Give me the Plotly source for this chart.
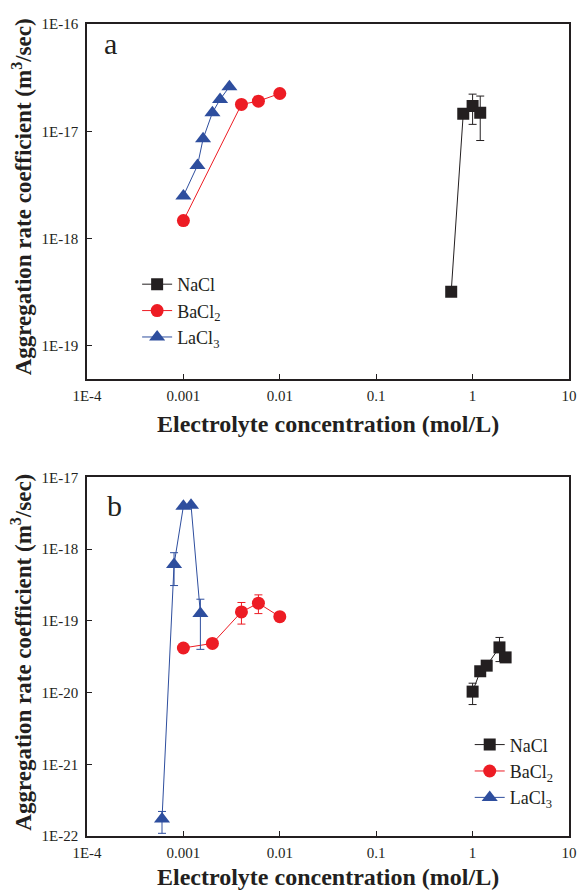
import plotly.graph_objects as go

nan = float("nan")

# ---- Panel a data ----
a_nacl_x = [0.6, 0.8, 1.0, 1.2]
a_nacl_y = [3.2e-19, 1.46e-17, 1.72e-17, 1.49e-17]
a_nacl_ep = [nan, nan, 0.50e-17, 0.64e-17]
a_nacl_em = [nan, nan, 0.56e-17, 0.67e-17]

a_ba_x = [0.001, 0.004, 0.006, 0.01]
a_ba_y = [1.47e-18, 1.78e-17, 1.91e-17, 2.25e-17]

a_la_x = [0.001, 0.0014, 0.0016, 0.002, 0.0024, 0.003]
a_la_y = [2.5e-18, 4.8e-18, 8.5e-18, 1.49e-17, 1.98e-17, 2.6e-17]

# ---- Panel b data ----
b_nacl_x = [1.0, 1.2, 1.4, 1.9, 2.2]
b_nacl_y = [1.03e-20, 1.98e-20, 2.37e-20, 4.26e-20, 3.09e-20]
b_nacl_ep = [0.32e-20, nan, nan, 1.6e-20, nan]
b_nacl_em = [0.35e-20, nan, nan, 1.56e-20, nan]

b_ba_x = [0.001, 0.002, 0.004, 0.006, 0.01]
b_ba_y = [4.18e-20, 4.84e-20, 1.33e-19, 1.76e-19, 1.14e-19]
b_ba_ep = [nan, nan, 0.47e-19, 0.54e-19, nan]
b_ba_em = [nan, nan, 0.43e-19, 0.50e-19, nan]

b_la_x = [0.0006, 0.0008, 0.001, 0.0012, 0.0015]
b_la_y = [1.72e-22, 6.1e-19, 3.96e-18, 4.07e-18, 1.26e-19]
b_la_ep = [0.48e-22, 2.8e-19, nan, nan, 0.74e-19]
b_la_em = [0.63e-22, 3.0e-19, nan, nan, 0.86e-19]

x_tickvals = [1e-4, 1e-3, 1e-2, 1e-1, 1, 10]
x_ticktext = ["1E-4", "0.001", "0.01", "0.1", "1", "10"]
ya_tickvals = [1e-19, 1e-18, 1e-17, 1e-16]
ya_ticktext = ["1E-19", "1E-18", "1E-17", "1E-16"]
yb_tickvals = [1e-22, 1e-21, 1e-20, 1e-19, 1e-18, 1e-17]
yb_ticktext = ["1E-22", "1E-21", "1E-20", "1E-19", "1E-18", "1E-17"]

BLACK = "#231f20"
RED = "#ed1c24"
BLUE = "#2e4e9e"
FONT = "Liberation Serif"

names = ["NaCl", "BaCl<sub>2</sub>", "LaCl<sub>3</sub>"]
colors = [BLACK, RED, BLUE]
symbols = ["square", "circle", "triangle-up"]
sizes = [12, 13, 14]

fig = go.Figure()


def add(x, y, i, xa, ya, legend, ep=None, em=None):
    err = None
    if ep is not None:
        err = dict(type="data", symmetric=False, array=ep, arrayminus=em,
                   color=colors[i], thickness=1, width=4)
    fig.add_trace(go.Scatter(
        x=x, y=y, mode="lines+markers", name=names[i],
        line=dict(color=colors[i], width=1),
        marker=dict(symbol=symbols[i], size=sizes[i], color=colors[i]),
        error_y=err, xaxis=xa, yaxis=ya, legend=legend))


add(a_nacl_x, a_nacl_y, 0, "x", "y", "legend", a_nacl_ep, a_nacl_em)
add(a_ba_x, a_ba_y, 1, "x", "y", "legend")
add(a_la_x, a_la_y, 2, "x", "y", "legend")
add(b_nacl_x, b_nacl_y, 0, "x2", "y2", "legend2", b_nacl_ep, b_nacl_em)
add(b_ba_x, b_ba_y, 1, "x2", "y2", "legend2", b_ba_ep, b_ba_em)
add(b_la_x, b_la_y, 2, "x2", "y2", "legend2", b_la_ep, b_la_em)

axis_common = dict(type="log", showgrid=False, zeroline=False, showline=True,
                   linecolor=BLACK, linewidth=1.5, mirror=True, ticks="inside",
                   ticklen=5, tickwidth=1.2, tickcolor=BLACK,
                   tickfont=dict(family=FONT, size=15, color=BLACK))

fig.update_layout(
    width=577, height=883,
    margin=dict(l=79, r=8, t=13, b=55),
    plot_bgcolor="white", paper_bgcolor="white",
    showlegend=True,
    xaxis=dict(axis_common, anchor="y", domain=[0, 1], range=[-4, 1],
               tickvals=x_tickvals, ticktext=x_ticktext, ticklabelstandoff=3),
    yaxis=dict(axis_common, anchor="x", domain=[0.5632, 1], range=[-19.306, -16],
               tickvals=ya_tickvals, ticktext=ya_ticktext, ticklabelstandoff=4),
    xaxis2=dict(axis_common, anchor="y2", domain=[0, 1], range=[-4, 1],
                tickvals=x_tickvals, ticktext=x_ticktext, ticklabelstandoff=2),
    yaxis2=dict(axis_common, anchor="x2", domain=[0, 0.4417], range=[-22, -17],
                tickvals=yb_tickvals, ticktext=yb_ticktext, ticklabelstandoff=4),
    legend=dict(x=0.104, y=0.702, xanchor="left", yanchor="top",
                font=dict(family=FONT, size=18, color=BLACK),
                bgcolor="rgba(0,0,0,0)"),
    legend2=dict(x=0.794, y=0.135, xanchor="left", yanchor="top",
                 font=dict(family=FONT, size=18, color=BLACK),
                 bgcolor="rgba(0,0,0,0)"),
)

title_x = "<b>Electrolyte concentration (mol/L)</b>"
title_y = "<b>Aggregation rate coefficient (m<sup>3</sup>/sec)</b>"
xt_font = dict(family=FONT, size=24, color=BLACK)
yt_font = dict(family=FONT, size=23, color=BLACK)
fig.add_annotation(text=title_x, xref="paper", yref="paper", x=0.5, y=0.5632,
                   yshift=-45, showarrow=False, font=xt_font,
                   xanchor="center", yanchor="middle")
fig.add_annotation(text=title_x, xref="paper", yref="paper", x=0.5, y=0,
                   yshift=-41, showarrow=False, font=xt_font,
                   xanchor="center", yanchor="middle")
fig.add_annotation(text=title_y, xref="paper", yref="paper", x=0, xshift=-65,
                   y=(0.5632 + 1) / 2, yshift=4, textangle=-90, showarrow=False,
                   font=yt_font, xanchor="center", yanchor="middle")
fig.add_annotation(text=title_y, xref="paper", yref="paper", x=0, xshift=-65,
                   y=0.4417 / 2, yshift=4, textangle=-90, showarrow=False,
                   font=yt_font, xanchor="center", yanchor="middle")
fig.add_annotation(text="a", xref="x domain", yref="y domain", x=0.048, y=0.945,
                   showarrow=False, xanchor="center", yanchor="middle",
                   font=dict(family=FONT, size=30, color=BLACK))
fig.add_annotation(text="b", xref="x2 domain", yref="y2 domain", x=0.057, y=0.922,
                   showarrow=False, xanchor="center", yanchor="middle",
                   font=dict(family=FONT, size=30, color=BLACK))

fig.write_html("out.html")
